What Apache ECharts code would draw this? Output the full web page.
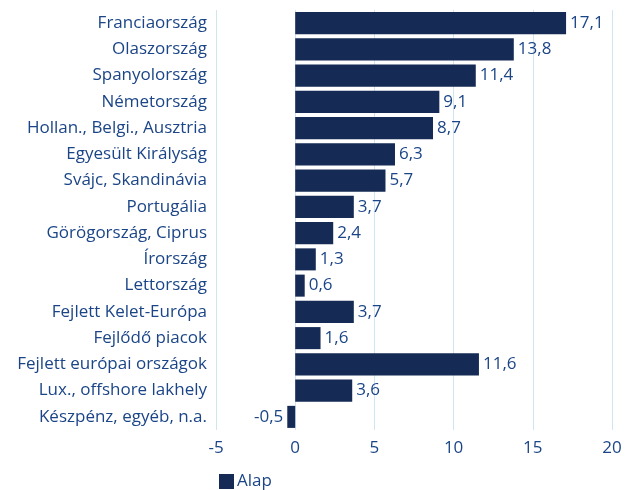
<!DOCTYPE html>
<html>
<head>
<meta charset="utf-8">
<script src="https://cdn.jsdelivr.net/npm/echarts@6/dist/echarts.min.js"></script>
<style>
html, body { margin: 0; padding: 0; background: #fff; }
#chart { width: 632px; height: 490px; }
</style>
</head>
<body>
<div id="chart"></div>
<script>
var categories = [
	'Franciaország', 'Olaszország', 'Spanyolország', 'Németország',
	'Hollan., Belgi., Ausztria', 'Egyesült Királyság', 'Svájc, Skandinávia',
	'Portugália', 'Görögország, Ciprus', 'Írország', 'Lettország',
	'Fejlett Kelet-Európa', 'Fejlődő piacok', 'Fejlett európai országok',
	'Lux., offshore lakhely', 'Készpénz, egyéb, n.a.'
];
var values = [17.1, 13.8, 11.4, 9.1, 8.7, 6.3, 5.7, 3.7, 2.4, 1.3, 0.6, 3.7, 1.6, 11.6, 3.6, -0.5];
var seriesName = 'Alap';

var textColor = '#1b4587';
var barColor = '#152b55';
var font = '"Open Sans", sans-serif';
var fs = 17;

function initChart() {
	var data = values.map(function (v) {
		return {
			value : v,
			label : { position : v < 0 ? 'left' : 'right' }
		};
	});
	var option = {
		animation : false,
		textStyle : { fontFamily : font },
		grid : {
			left : 216,
			right : 20,
			top : 10,
			bottom : 60,
			containLabel : false
		},
		legend : {
			left : 214,
			top : 468,
			itemWidth : 15,
			itemHeight : 15,
			itemGap : 4,
			icon : 'rect',
			textStyle : { color : textColor, fontSize : fs, fontFamily : font, padding : [0, 0, 0, -2] },
			data : [seriesName]
		},
		xAxis : {
			type : 'value',
			min : -5,
			max : 20,
			interval : 5,
			axisLine : { show : false },
			axisTick : { show : false },
			splitLine : { lineStyle : { color : '#cfe6f0', width : 1 } },
			axisLabel : { color : textColor, fontSize : fs, margin : 10, fontFamily : font }
		},
		yAxis : {
			type : 'category',
			inverse : true,
			data : categories,
			axisLine : { show : false },
			axisTick : { show : false },
			axisLabel : { color : textColor, fontSize : fs, margin : 9, fontFamily : font }
		},
		series : [ {
			name : seriesName,
			type : 'bar',
			barCategoryGap : '16%',
			itemStyle : { color : barColor },
			label : {
				show : true,
				color : textColor,
				fontSize : fs,
				fontFamily : font,
				distance : 4,
				formatter : function (p) {
					return String(p.value).replace('.', ',');
				}
			},
			data : data
		} ]
	};
	var myChart = echarts.init(document.getElementById('chart'));
	myChart.setOption(option);
}
initChart();
</script>
</body>
</html>
